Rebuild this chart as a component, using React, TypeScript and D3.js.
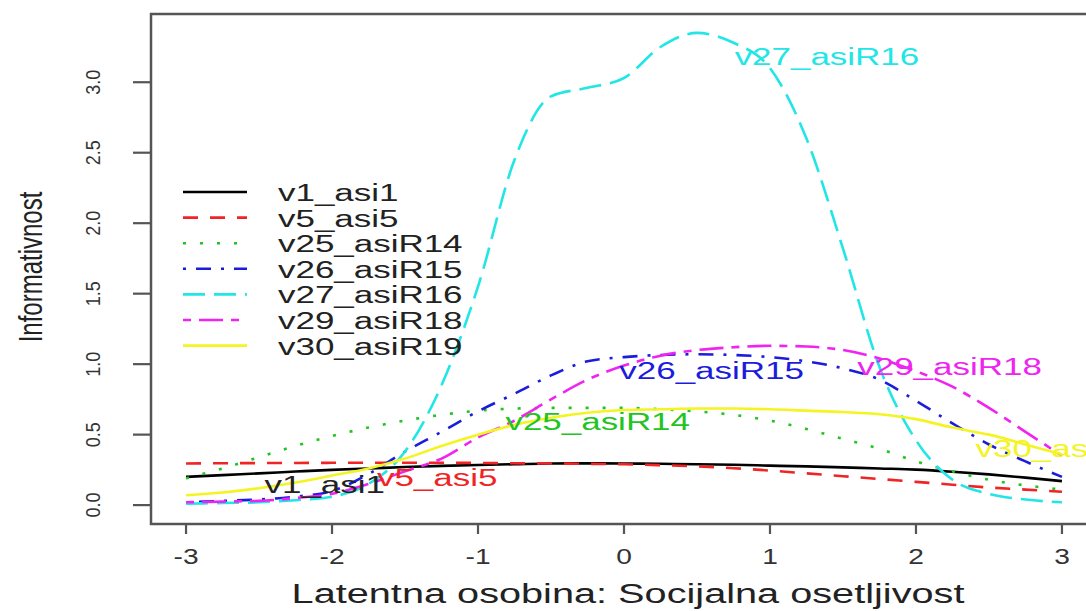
import React from "react";
import * as d3 from "d3";

// latent trait grid
const theta = [
  -3, -2.75, -2.5, -2.25, -2, -1.75, -1.5, -1.25, -1, -0.75, -0.5, -0.25, 0,
  0.25, 0.5, 0.75, 1, 1.25, 1.5, 1.75, 2, 2.25, 2.5, 2.75, 3,
];

const itemNames = [
  "v1_asi1",
  "v5_asi5",
  "v25_asiR14",
  "v26_asiR15",
  "v27_asiR16",
  "v29_asiR18",
  "v30_asiR19",
];

// item information
const v1 = [0.2, 0.213, 0.225, 0.238, 0.25, 0.26, 0.27, 0.278, 0.285, 0.29, 0.295, 0.296, 0.295, 0.293, 0.29, 0.286, 0.28, 0.275, 0.268, 0.26, 0.252, 0.237, 0.218, 0.195, 0.17];
const v5 = [0.295, 0.297, 0.298, 0.299, 0.3, 0.3, 0.3, 0.3, 0.299, 0.297, 0.295, 0.293, 0.29, 0.283, 0.275, 0.262, 0.245, 0.225, 0.205, 0.185, 0.165, 0.145, 0.125, 0.11, 0.095];
const v25 = [0.19, 0.26, 0.34, 0.42, 0.49, 0.55, 0.6, 0.64, 0.67, 0.685, 0.69, 0.69, 0.69, 0.68, 0.665, 0.64, 0.6, 0.54, 0.47, 0.4, 0.31, 0.24, 0.18, 0.14, 0.11];
const v26 = [0.02, 0.03, 0.04, 0.06, 0.1, 0.22, 0.38, 0.52, 0.665, 0.79, 0.92, 1.02, 1.05, 1.065, 1.07, 1.065, 1.05, 1.02, 0.97, 0.89, 0.74, 0.58, 0.43, 0.31, 0.2];
const v27 = [0.01, 0.015, 0.02, 0.035, 0.06, 0.15, 0.38, 0.85, 1.55, 2.45, 2.9, 2.96, 3.03, 3.25, 3.35, 3.28, 3.1, 2.6, 1.82, 0.98, 0.46, 0.18, 0.08, 0.04, 0.02];
const v29 = [0.02, 0.025, 0.03, 0.05, 0.08, 0.15, 0.24, 0.33, 0.48, 0.6, 0.75, 0.89, 0.99, 1.06, 1.1, 1.12, 1.13, 1.125, 1.1, 1.04, 0.95, 0.84, 0.69, 0.52, 0.35];
const v30 = [0.07, 0.09, 0.12, 0.16, 0.21, 0.26, 0.33, 0.42, 0.5, 0.57, 0.62, 0.655, 0.675, 0.68, 0.685, 0.685, 0.68, 0.67, 0.66, 0.645, 0.61, 0.55, 0.5, 0.43, 0.36];

const seriesValues = [v1, v5, v25, v26, v27, v29, v30];

// where the item names sit on the curves (theta, information)
const labelTheta = [-2.05, -1.28, -0.18, 0.6, 1.39, 2.23, 3.04];
const labelInfo = [0.14, 0.19, 0.59, 0.955, 3.18, 0.98, 0.4];

const xTicks = [-3, -2, -1, 0, 1, 2, 3];
const yTicks = [0, 0.5, 1, 1.5, 2, 2.5, 3];

const colors = ["#000000", "#f02424", "#22c422", "#1c1cdc", "#22e6e6", "#f024f0", "#f4f422"];
const dashes = [null, "15 12", "3 14", "3 10 15 10", "22 9", "8 8 24 8", null];

const FONT = "'Liberation Sans', Arial, Helvetica, sans-serif";

const App = () => {
  const width = 1086;
  const height = 611;
  const box = { left: 151, right: 1097, top: 14, bottom: 524 };

  const yMax = d3.max(seriesValues, (s) => d3.max(s));
  const xScale = d3.scaleLinear().domain([-3.24, 3.24]).range([box.left, box.right]);
  const yScale = d3
    .scaleLinear()
    .domain([-0.04 * yMax, yMax * 1.04])
    .range([box.bottom, box.top]);

  const line = d3
    .line()
    .x((d) => xScale(d[0]))
    .y((d) => yScale(d[1]))
    .curve(d3.curveMonotoneX);

  const textStretch = 1.52;

  return (
    <svg
      width={width}
      height={height}
      style={{ position: "absolute", left: 0, top: 0, background: "#fff" }}
      fontFamily={FONT}
    >
      <rect width={width} height={height} fill="#fff" />

      {
        // curves
        seriesValues.map((vals, i) => (
          <path
            key={itemNames[i]}
            d={line(theta.map((t, j) => [t, vals[j]]))}
            fill="none"
            stroke={colors[i]}
            strokeWidth={2.6}
            strokeDasharray={dashes[i] || undefined}
          />
        ))
      }

      {/* box */}
      <rect
        x={box.left}
        y={box.top}
        width={box.right - box.left}
        height={box.bottom - box.top}
        fill="none"
        stroke="#555"
        strokeWidth={2.5}
      />

      {
        // x axis
        xTicks.map((t) => (
          <g key={t} transform={`translate(${xScale(t)},0)`}>
            <line y1={box.bottom} y2={box.bottom + 10} stroke="#555" strokeWidth={2.2} />
            <g transform={`translate(0,564) scale(1.28,1)`}>
              <text textAnchor="middle" fontSize={22} fill="#333">
                {t}
              </text>
            </g>
          </g>
        ))
      }
      <g transform={`translate(628,603) scale(1.47,1)`}>
        <text textAnchor="middle" fontSize={27} fill="#222">
          Latentna osobina: Socijalna  osetljivost
        </text>
      </g>

      {
        // y axis
        yTicks.map((t) => (
          <g key={t} transform={`translate(0,${yScale(t)})`}>
            <line x1={box.left - 18} x2={box.left} stroke="#555" strokeWidth={2.2} />
            <g transform={`translate(100,0) rotate(-90) scale(1,1.1)`}>
              <text textAnchor="middle" fontSize={18} fill="#333">
                {t.toFixed(1)}
              </text>
            </g>
          </g>
        ))
      }
      <g transform={`translate(42,267) rotate(-90) scale(1,1.4)`}>
        <text textAnchor="middle" fontSize={24} fill="#222">
          Informativnost
        </text>
      </g>

      {
        // legend
        itemNames.map((name, i) => {
          const ly = 192 + i * 25.6;
          return (
            <g key={name}>
              <line
                x1={183}
                x2={247}
                y1={ly}
                y2={ly}
                stroke={colors[i]}
                strokeWidth={2.6}
                strokeDasharray={dashes[i] || undefined}
              />
              <g transform={`translate(278,${ly + 9}) scale(${textStretch},1)`}>
                <text fontSize={23} fill="#222">
                  {name}
                </text>
              </g>
            </g>
          );
        })
      }

      {
        // labels on the curves
        itemNames.map((name, i) => (
          <g
            key={name}
            transform={`translate(${xScale(labelTheta[i])},${yScale(labelInfo[i])}) scale(${textStretch},1)`}
          >
            <text
              textAnchor="middle"
              dy="0.35em"
              fontSize={23}
              fill={i === 0 ? "#222" : colors[i]}
            >
              {name}
            </text>
          </g>
        ))
      }
    </svg>
  );
};

export default App;
